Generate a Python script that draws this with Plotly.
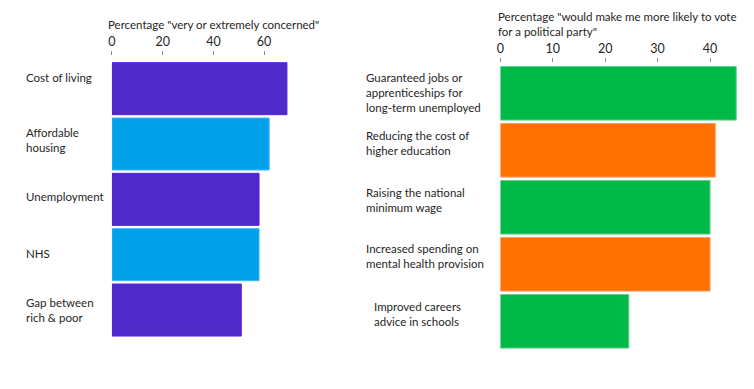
import plotly.graph_objects as go

# ---- data ----
left_categories = ["Cost of living", "Affordable<br>housing", "Unemployment", "NHS", "Gap between<br>rich & poor"]
left_values = [69, 62, 58, 58, 51]
left_colors = ["#4F2ACB", "#00A1E9", "#4F2ACB", "#00A1E9", "#4F2ACB"]
left_title = 'Percentage "very or extremely concerned"'
left_ticks = [0, 20, 40, 60]

right_categories = ["Guaranteed jobs or<br>apprenticeships for<br>long-term unemployed",
                    "Reducing the cost of<br>higher education",
                    "Raising the national<br>minimum wage",
                    "Increased spending on<br>mental health provision",
                    "Improved careers<br>advice in schools"]
right_values = [45, 41, 40, 40, 24.5]
right_colors = ["#00BA48", "#FF7100", "#00BA48", "#FF7100", "#00BA48"]
right_title = 'Percentage "would make me more likely to vote<br>for a political party"'
right_ticks = [0, 10, 20, 30, 40]

# ---- label placement (style, not data) ----
left_label_yshift = [11, 4, 3, 1, 0]
right_label_yshift = [1, 7.5, 7.5, 8, 7.5]
right_label_xshift = [0, 0, 0, 0, 8]

line_map = {"#4F2ACB": "#5A1EE3", "#00A1E9": "#45B8F0", "#00BA48": "#5ED08A", "#FF7100": "#FF9A66"}

W, H = 754, 389
FONT = "Lato"
TXT = "#262626"
FS = 11.5

def px(x):
    return x / W

def py(y):
    return (H - y) / H

fig = go.Figure()
fig.add_trace(go.Bar(
    x=left_values, y=left_categories, orientation="h",
    marker=dict(color=left_colors, line=dict(color=[line_map[c] for c in left_colors], width=1)),
    xaxis="x", yaxis="y", hoverinfo="x+y"))
fig.add_trace(go.Bar(
    x=right_values, y=right_categories, orientation="h",
    marker=dict(color=right_colors, line=dict(color=[line_map[c] for c in right_colors], width=1)),
    xaxis="x2", yaxis="y2", hoverinfo="x+y"))

l_range = [0, 72]
l_x0 = 108.5
l_scale = 2.55
r_range = [0, 46]
r_x0 = 499
r_scale = 5.27

common_x = dict(showgrid=False, zeroline=False, showline=False, side="top", anchor="free",
                ticks="outside", ticklen=4, tickwidth=1, tickcolor="#8a8a8a",
                tickfont=dict(family=FONT, size=12.5, color=TXT), fixedrange=True)

fig.update_layout(
    width=W, height=H,
    margin=dict(l=0, r=0, t=0, b=0),
    paper_bgcolor="white", plot_bgcolor="white",
    showlegend=False,
    bargap=0.06,
    font=dict(family=FONT, size=FS, color=TXT),
    xaxis=dict(domain=[px(l_x0), px(l_x0 + l_range[1] * l_scale)], range=l_range,
               tickvals=left_ticks, position=py(55), **common_x),
    yaxis=dict(domain=[py(337.7), py(61)], autorange="reversed", showticklabels=False,
               showgrid=False, zeroline=False, showline=False, ticks="", anchor="x", fixedrange=True),
    xaxis2=dict(domain=[px(r_x0), px(r_x0 + r_range[1] * r_scale)], range=r_range,
                tickvals=right_ticks, position=py(62), **common_x),
    yaxis2=dict(domain=[py(349.8), py(64.8)], autorange="reversed", showticklabels=False,
                showgrid=False, zeroline=False, showline=False, ticks="", anchor="x2", fixedrange=True),
)

annotations = []
annotations.append(dict(text=left_title, xref="paper", yref="paper", x=px(103), y=py(24),
                        xanchor="left", yanchor="middle", showarrow=False, align="left",
                        font=dict(family=FONT, size=FS, color=TXT)))
annotations.append(dict(text=right_title, xref="paper", yref="paper", x=px(495), y=py(24),
                        xanchor="left", yanchor="middle", showarrow=False, align="left",
                        font=dict(family=FONT, size=FS, color=TXT)))
for i, cat in enumerate(left_categories):
    annotations.append(dict(text=cat, xref="paper", yref="y", x=px(20), y=cat,
                            yshift=left_label_yshift[i],
                            xanchor="left", yanchor="middle", showarrow=False, align="left",
                            font=dict(family=FONT, size=FS, color=TXT)))
for i, cat in enumerate(right_categories):
    annotations.append(dict(text=cat, xref="paper", yref="y2", x=px(362), y=cat,
                            xshift=right_label_xshift[i], yshift=right_label_yshift[i],
                            xanchor="left", yanchor="middle", showarrow=False, align="left",
                            font=dict(family=FONT, size=FS, color=TXT)))
fig.update_layout(annotations=annotations)

fig.write_html("out.html", config={"displayModeBar": False},
               post_script="document.body.style.margin='0';document.body.style.overflow='hidden';")
